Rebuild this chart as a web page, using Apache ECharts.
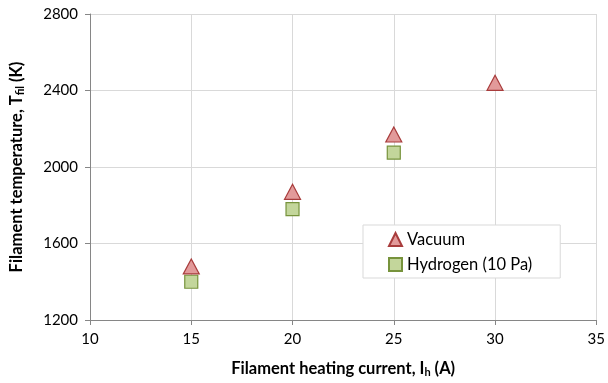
<!DOCTYPE html>
<html><head><meta charset="utf-8">
<script src="https://cdn.jsdelivr.net/npm/echarts@6/dist/echarts.min.js"></script>
<style>html,body{margin:0;padding:0;background:#fff}#c{width:608px;height:383px}</style>
</head><body><div id="c"></div>
<script>
const currents = [15, 20, 25, 30];
const vacuumTemp = [1480, 1870, 2170, 2440];
const hydrogenCurrents = [15, 20, 25];
const hydrogenTemp = [1400, 1780, 2075];
const xTicks = [10, 15, 20, 25, 30, 35];
const yTicks = [1200, 1600, 2000, 2400, 2800];

const FONT = 'Lato, "Open Sans", sans-serif';
const chart = echarts.init(document.getElementById('c'), null, {renderer: 'canvas'});
chart.setOption({
  animation: false,
  backgroundColor: '#fff',
  grid: {left: 90, right: 11, top: 14, bottom: 61, containLabel: false},
  xAxis: {
    type: 'value', min: xTicks[0], max: xTicks[xTicks.length - 1], interval: 5,
    name: '{b|Filament heating current, I}{s|h}{b| (A)}',
    nameLocation: 'middle', nameGap: 40,
    nameTextStyle: {rich: {
      b: {fontFamily: FONT, fontSize: 16.5, fontWeight: 'bold', color: '#000'},
      s: {fontFamily: FONT, fontSize: 11, fontWeight: 'bold', color: '#000', verticalAlign: 'bottom', padding: [7, 0, 0, 0]}
    }},
    axisLine: {show: true, lineStyle: {color: '#868686', width: 1}},
    axisTick: {show: true, inside: false, length: 5, lineStyle: {color: '#868686'}},
    axisLabel: {fontFamily: FONT, fontSize: 15, color: '#000', margin: 12, formatter: v => String(v)},
    splitLine: {show: true, lineStyle: {color: '#d9d9d9', width: 1}}
  },
  yAxis: {
    type: 'value', min: yTicks[0], max: yTicks[yTicks.length - 1], interval: 400,
    name: '{b|Filament temperature, T}{s|fil}{b| (K)}',
    nameLocation: 'middle', nameGap: 64, nameRotate: 90,
    nameTextStyle: {rich: {
      b: {fontFamily: FONT, fontSize: 16.5, fontWeight: 'bold', color: '#000'},
      s: {fontFamily: FONT, fontSize: 11, fontWeight: 'bold', color: '#000', verticalAlign: 'bottom', padding: [7, 0, 0, 0]}
    }},
    axisLine: {show: true, lineStyle: {color: '#868686', width: 1}},
    axisTick: {show: true, inside: false, length: 5, lineStyle: {color: '#868686'}},
    axisLabel: {fontFamily: FONT, fontSize: 15, color: '#000', margin: 12, formatter: v => String(v)},
    splitLine: {show: true, lineStyle: {color: '#d9d9d9', width: 1}}
  },
  legend: {
    show: true, orient: 'vertical', left: 363, top: 225,
    padding: [6, 28, 5, 25],
    backgroundColor: '#fff', borderColor: '#d9d9d9', borderWidth: 1, borderRadius: 0,
    itemWidth: 13, itemHeight: 13, itemGap: 8,
    textStyle: {fontFamily: FONT, fontSize: 16.5, color: '#000', padding: [0, 0, 0, 0]},
    data: ['Vacuum', 'Hydrogen (10 Pa)']
  },
  series: [
    {
      name: 'Vacuum', type: 'scatter', symbol: 'triangle', symbolSize: [16, 15],
      data: currents.map((c, i) => [c, vacuumTemp[i]]),
      itemStyle: {color: '#e29a9a', borderColor: '#a83c3c', borderWidth: 1.2, opacity: 1},
      z: 3
    },
    {
      name: 'Hydrogen (10 Pa)', type: 'scatter', symbol: 'rect', symbolSize: 13,
      data: hydrogenCurrents.map((c, i) => [c, hydrogenTemp[i]]),
      itemStyle: {color: '#c3d69b', borderColor: '#77933c', borderWidth: 1.2, opacity: 1},
      z: 2
    }
  ]
});
</script></body></html>
